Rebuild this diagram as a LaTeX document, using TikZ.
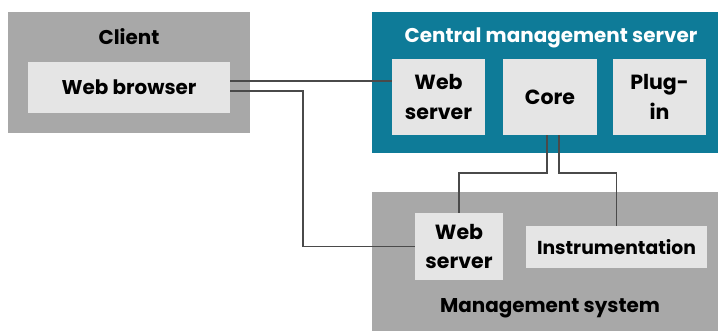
\documentclass[tikz,border=0pt]{standalone}
\usepackage{fontspec}
\setmainfont{Poppins}
\usetikzlibrary{positioning, calc}

\definecolor{cmsteal}{HTML}{0E7B98}
\definecolor{sysgray}{HTML}{A8A8A8}
\definecolor{boxgray}{HTML}{E5E5E5}
\definecolor{linkgray}{HTML}{4A4A4A}

\begin{document}
\begin{tikzpicture}[x=0.03cm, y=-0.03cm,
    container/.style={fill=sysgray, inner sep=0pt},
    part/.style={fill=boxgray, inner sep=0pt, align=center,
        font=\fontsize{17.5}{25}\selectfont\bfseries},
    heading/.style={font=\fontsize{17}{19}\selectfont\bfseries},
    link/.style={draw=linkgray, line width=1.6pt}]
\useasboundingbox (0,0) rectangle (718,331);

% Client
\node[container, minimum width=7.26cm, minimum height=3.63cm] (client) at (129,72.5) {};
\node[heading] (clienttitle) at (129,37) {Client};
\node[part, font=\fontsize{17}{19}\selectfont\bfseries, minimum width=6.06cm, minimum height=1.53cm] (browser) at (129,87.5) {Web browser};

% Central management server
\node[container, fill=cmsteal, minimum width=10.38cm, minimum height=4.23cm] (cms) at (545,82.5) {};
\node[heading, text=white] (cmstitle) at (551,38) {Central management server};
\node[part, minimum width=2.79cm, minimum height=2.28cm] (cmsweb) at (438.5,97) {Web\\server};
\node[part, minimum width=2.82cm, minimum height=2.28cm] (core) at (550,97) {Core};
\node[part, minimum width=2.79cm, minimum height=2.28cm] (plugin) at (659.5,97) {Plug-\\in};

% Management system
\node[container, minimum width=10.38cm, minimum height=4.17cm] (ms) at (545,261.5) {};
\node[part, minimum width=2.64cm, minimum height=2.01cm] (msweb) at (459,246.5) {Web\\server};
\node[part, font=\fontsize{16}{19}\selectfont\bfseries, minimum width=5.43cm, minimum height=1.26cm] (instr) at (616.5,247) {Instrumentation};
\node[heading] (mstitle) at (550,308) {Management system};

% connections
\draw[link] ($(browser.east)+(0,-6.5)$) coordinate (a) -- (a -| cmsweb.west);
\draw[link] ($(browser.east)+(0,3.5)$) coordinate (b) -| ($(msweb.west)+(-112,0)$) -- (msweb.west);
\draw[link] ($(core.south)+(-3,0)$) -- ++(0,38) -| (msweb.north);
\draw[link] ($(core.south)+(9,0)$) -- ++(0,38) -| (instr.north);
\end{tikzpicture}
\end{document}
